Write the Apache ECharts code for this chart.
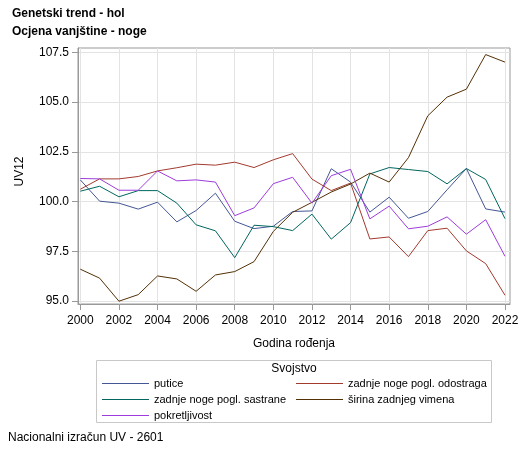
<!DOCTYPE html>
<html lang="hr">
<head>
	<meta charset="UTF-8">
	<title>Genetski trend - hol</title>
	<style type="text/css">
		html, body { margin: 0; padding: 0; background: #fff; }
	</style>
</head>
<body>
	<div id="main" style="width:529px;height:454px;"></div>
</body>
</html>
<script type="text/javascript" src="https://cdn.jsdelivr.net/npm/echarts@6/dist/echarts.min.js"></script>
<script type="text/javascript">
    var years = [2000,2001,2002,2003,2004,2005,2006,2007,2008,2009,2010,2011,2012,2013,2014,2015,2016,2017,2018,2019,2020,2021,2022];
    var xTicks = [2000,2002,2004,2006,2008,2010,2012,2014,2016,2018,2020,2022];
    var yTicks = [95,97.5,100,102.5,105,107.5];
    var putice = [101.09,100.02,99.92,99.62,99.97,98.98,99.55,100.42,99.01,98.64,98.76,99.5,99.53,101.65,100.98,99.47,100.22,99.16,99.5,100.59,101.66,99.63,99.47];
    var odostraga = [100.62,101.14,101.14,101.26,101.54,101.7,101.88,101.83,101.98,101.71,102.1,102.41,101.13,100.55,100.93,98.12,98.22,97.23,98.54,98.66,97.52,96.88,95.29];
    var sastrane = [100.52,100.77,100.24,100.55,100.55,99.92,98.83,98.53,97.18,98.81,98.74,98.54,99.37,98.11,98.94,101.39,101.71,101.61,101.51,100.89,101.66,101.11,99.14];
    var sirina = [96.6,96.15,94.99,95.32,96.26,96.11,95.49,96.31,96.48,96.98,98.5,99.46,99.96,100.48,100.88,101.43,100.98,102.21,104.31,105.25,105.65,107.39,107.01];
    var pokretljivost = [101.16,101.14,100.57,100.57,101.54,101.04,101.09,100.98,99.29,99.68,100.9,101.22,99.92,101.3,101.62,99.13,99.77,98.63,98.76,99.23,98.36,99.09,97.25];

    function pairs(vals) {
        return years.map(function (y, i) { return [y, vals[i]]; });
    }

    var myChart = echarts.init(document.getElementById('main'));
    var font = '"Liberation Sans", Arial, sans-serif';
    var legendBase = {
        orient: 'vertical', top: 378,
        icon: 'rect', itemWidth: 47, itemHeight: 1, itemGap: 5, padding: 0,
        textStyle: { fontFamily: font, fontSize: 11, color: '#000' }
    };
    var option = {
        animation: false,
        textStyle: { fontFamily: font },
        title: [
            {
                text: 'Genetski trend - hol\nOcjena vanjštine - noge',
                left: 12, top: 5, padding: 0,
                textStyle: { fontFamily: font, fontSize: 12, fontWeight: 'bold', color: '#000', lineHeight: 18 }
            },
            {
                text: 'Svojstvo',
                left: 294, top: 363, textAlign: 'center', padding: 0,
                textStyle: { fontFamily: font, fontSize: 12, fontWeight: 'normal', color: '#000' }
            },
            {
                text: 'Nacionalni izračun UV - 2601',
                left: 8, top: 432, padding: 0,
                textStyle: { fontFamily: font, fontSize: 12, fontWeight: 'normal', color: '#000' }
            }
        ],
        graphic: [
            {
                type: 'rect', silent: true,
                shape: { x: 96.5, y: 360.5, width: 395, height: 62 },
                style: { fill: 'none', stroke: '#c8c8c8', lineWidth: 1 }
            }
        ],
        legend: [
            Object.assign({}, legendBase, {
                left: 102,
                data: ['putice', 'zadnje noge pogl. sastrane', 'pokretljivost']
            }),
            Object.assign({}, legendBase, {
                left: 296,
                data: ['zadnje noge pogl. odostraga', 'širina zadnjeg vimena']
            })
        ],
        grid: {
            left: 78, right: 19, top: 48, bottom: 150,
            show: true, borderColor: '#999', borderWidth: 1
        },
        xAxis: {
            type: 'value',
            min: 1999.88, max: 2022.26,
            name: 'Godina rođenja',
            nameLocation: 'middle', nameGap: 34,
            nameTextStyle: { fontFamily: font, fontSize: 12, color: '#000' },
            axisLine: { show: true, lineStyle: { color: '#999' } },
            axisTick: { show: true, length: 6, lineStyle: { color: '#999' }, customValues: xTicks },
            axisLabel: { customValues: xTicks, margin: 11, fontFamily: font, fontSize: 12, color: '#000', formatter: function (v) { return String(v); } },
            splitLine: { show: true, lineStyle: { color: '#e3e3e3', width: 1 } }
        },
        yAxis: {
            type: 'value',
            min: 94.85, max: 107.72,
            name: 'UV12',
            nameLocation: 'middle', nameGap: 52,
            nameTextStyle: { fontFamily: font, fontSize: 12, color: '#000', padding: [0, 0, 0, 9] },
            axisLine: { show: true, lineStyle: { color: '#999' } },
            axisTick: { show: true, length: 6, lineStyle: { color: '#999' }, customValues: yTicks },
            axisLabel: { customValues: yTicks, margin: 9, fontFamily: font, fontSize: 12, color: '#000', formatter: function (v) { return v.toFixed(1); } },
            splitLine: { show: true, lineStyle: { color: '#e3e3e3', width: 1 } }
        },
        series: [
            { name: 'putice', type: 'line', symbol: 'none', data: pairs(putice), lineStyle: { width: 1, color: '#445694' }, itemStyle: { color: '#445694' } },
            { name: 'zadnje noge pogl. odostraga', type: 'line', symbol: 'none', data: pairs(odostraga), lineStyle: { width: 1, color: '#A23A2E' }, itemStyle: { color: '#A23A2E' } },
            { name: 'zadnje noge pogl. sastrane', type: 'line', symbol: 'none', data: pairs(sastrane), lineStyle: { width: 1, color: '#01665E' }, itemStyle: { color: '#01665E' } },
            { name: 'širina zadnjeg vimena', type: 'line', symbol: 'none', data: pairs(sirina), lineStyle: { width: 1, color: '#543005' }, itemStyle: { color: '#543005' } },
            { name: 'pokretljivost', type: 'line', symbol: 'none', data: pairs(pokretljivost), lineStyle: { width: 1, color: '#9D3CDB' }, itemStyle: { color: '#9D3CDB' } }
        ]
    };
    myChart.setOption(option);
</script>
